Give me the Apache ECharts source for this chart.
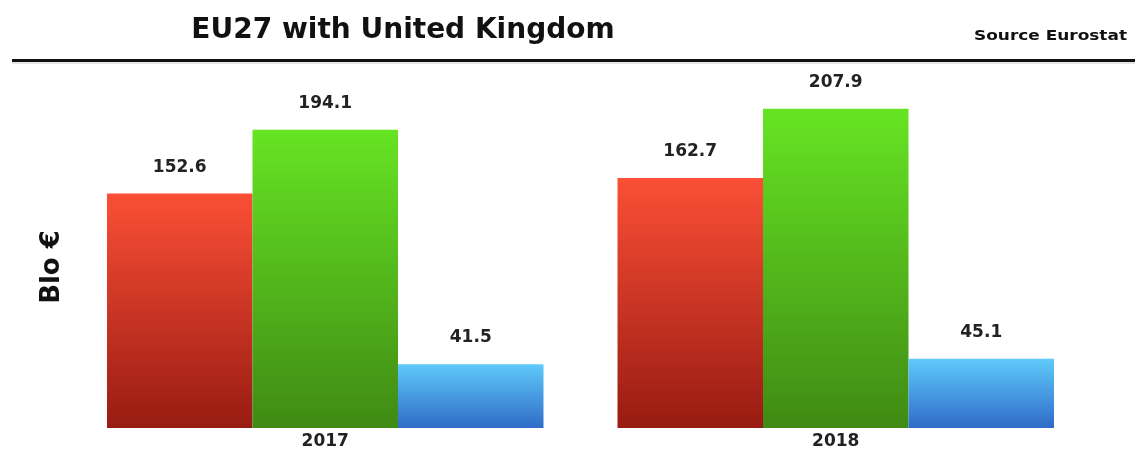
<!DOCTYPE html>
<html>
<head>
<meta charset="utf-8">
<script src="https://cdn.jsdelivr.net/npm/echarts@6/dist/echarts.min.js"></script>
<style>html,body{margin:0;padding:0;background:#fff}#c{width:1135px;height:451px}</style>
</head>
<body>
<div id="c"></div>
<script>
const categories = ['2017', '2018'];
const seriesA = [152.6, 162.7];
const seriesB = [194.1, 207.9];
const seriesC = [41.5, 45.1];
const titleText = 'EU27 with United Kingdom';
const sourceText = 'Source Eurostat';
const yName = 'Blo €';

const FONT = 'DejaVu Sans';
const chart = echarts.init(document.getElementById('c'));
function grad(top, bottom) {
  return new echarts.graphic.LinearGradient(0, 0, 0, 1, [
    {offset: 0, color: top}, {offset: 1, color: bottom}
  ]);
}
const labelCfg = {show: true, position: 'top', distance: 18, color: '#222', fontSize: 17, fontWeight: 'bold', fontFamily: FONT};
chart.setOption({
  animation: false,
  graphic: [
    {type: 'text', x: 403, y: 31, style: {text: titleText, fontSize: 28, fontWeight: 'bold', fill: '#111', fontFamily: FONT, align: 'center', verticalAlign: 'middle'}},
    {type: 'text', x: 1127, y: 36, scaleX: 1.21, style: {text: sourceText, fontSize: 14, fontWeight: 'bold', fill: '#111', fontFamily: FONT, align: 'right', verticalAlign: 'middle'}},
    {type: 'text', x: 52, y: 267, rotation: Math.PI / 2, style: {text: yName, fontSize: 26, fontWeight: 'bold', fill: '#111', fontFamily: FONT, align: 'center', verticalAlign: 'middle'}},
    {type: 'rect', shape: {x: 12, y: 59, width: 1123, height: 3}, style: {fill: '#111'}},
    {type: 'rect', shape: {x: 12, y: 62, width: 1123, height: 2}, style: {fill: '#e4e4e4'}}
  ],
  grid: {left: 70, right: 44, top: 44, bottom: 23},
  xAxis: {
    type: 'category', data: categories,
    axisLine: {show: false}, axisTick: {show: false},
    axisLabel: {color: '#222', fontSize: 17, fontWeight: 'bold', margin: 5, fontFamily: FONT}
  },
  yAxis: {
    type: 'value', min: 0, max: 250,
    axisLine: {show: false}, axisTick: {show: false}, axisLabel: {show: false}, splitLine: {show: false}
  },
  series: [
    {type: 'bar', data: seriesA, barGap: '0%', barCategoryGap: '14.5%', itemStyle: {color: grad('#fb4f36', '#981b12')}, label: labelCfg},
    {type: 'bar', data: seriesB, itemStyle: {color: grad('#66e423', '#408a14')}, label: labelCfg},
    {type: 'bar', data: seriesC, itemStyle: {color: grad('#5fcafb', '#2f6bc7')}, label: labelCfg}
  ]
});
</script>
</body>
</html>
